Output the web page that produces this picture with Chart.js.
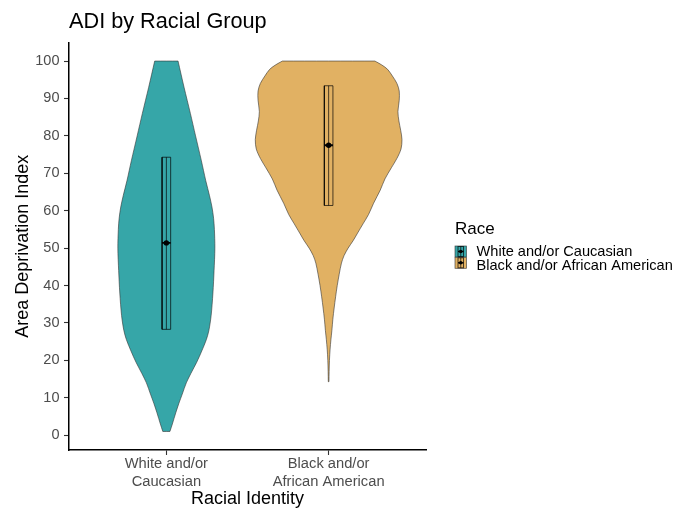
<!DOCTYPE html>
<html>
<head>
<meta charset="utf-8">
<script src="https://cdn.jsdelivr.net/npm/chart.js@4/dist/chart.umd.min.js"></script>
<style>
  html, body { margin: 0; padding: 0; background: #ffffff; }
  #wrap { width: 688px; height: 510px; position: relative; }
</style>
</head>
<body>
<div id="wrap"><canvas id="chart" width="688" height="510"></canvas></div>
<script>
// ---- data ----
const categories = ['White and/or Caucasian', 'Black and/or African American'];
const tickLabels = [['White and/or', 'Caucasian'], ['Black and/or', 'African American']];
const yTicks = [0, 10, 20, 30, 40, 50, 60, 70, 80, 90, 100];

// violin profiles: ADI level and half-width of the density (category units)
const whiteLevels = [1, 3, 6, 8.5, 11, 14, 16.5, 19.5, 22.5, 25.5, 28, 32, 38, 44, 50, 55, 58, 61, 64, 68, 73.5, 80, 86, 93, 100];
const whiteHalfWidth = [0.022, 0.037, 0.058, 0.077, 0.098, 0.123, 0.151, 0.187, 0.218, 0.246, 0.262, 0.276, 0.287, 0.294, 0.299, 0.296, 0.291, 0.281, 0.266, 0.243, 0.215, 0.180, 0.148, 0.109, 0.072];

const blackLevels = [14.3, 17, 20, 23, 25.5, 28, 31, 34, 37, 40, 43, 46, 48, 50, 52, 54, 56.5, 59, 62, 65.5, 68.5, 71.5, 74, 76.5, 79, 81.5, 84, 86.5, 89.5, 92, 94, 96, 97.8, 99, 100];
const blackHalfWidth = [0.002, 0.003, 0.005, 0.009, 0.014, 0.020, 0.026, 0.034, 0.043, 0.053, 0.065, 0.079, 0.095, 0.120, 0.151, 0.178, 0.212, 0.246, 0.277, 0.318, 0.347, 0.387, 0.421, 0.446, 0.452, 0.444, 0.433, 0.427, 0.435, 0.435, 0.421, 0.393, 0.363, 0.326, 0.285];

// interquartile box and mean per group
const lowerQuartile = [28.3, 61.4];
const upperQuartile = [74.3, 93.4];
const groupMean = [51.4, 77.5];

// ---- styling ----
const fillColors = ['#36A6A8', '#E1B163'];
const FONT = "'Liberation Sans', Arial, Helvetica, sans-serif";
const BOX_HALF = 0.0265;
const OUTLINE = 'rgba(51,51,51,0.85)';
const BOX_LINE = 'rgba(0,0,0,0.68)';

Chart.defaults.font.family = FONT;

// closed outline: up the right side, down the left side;
// the end vertices are repeated so the flat ends stay square
function violinOutline(center, levels, halves) {
  const n = levels.length;
  const right = levels.map((y, i) => ({ x: center + halves[i], y }));
  const left = levels.map((y, i) => ({ x: center - halves[i], y })).reverse();
  return [right[0], ...right, right[n - 1], left[0], ...left, left[n - 1], right[0]];
}

const profiles = [
  { levels: whiteLevels, halves: whiteHalfWidth },
  { levels: blackLevels, halves: blackHalfWidth }
];

// higher `order` is painted first, so violins sit underneath the boxes
const datasets = [];
categories.forEach((name, i) => {
  const c = i + 1;
  datasets.push({
    label: name, order: 10,
    data: violinOutline(c, profiles[i].levels, profiles[i].halves),
    showLine: true, fill: 'shape', tension: 0.3,
    backgroundColor: fillColors[i], borderColor: OUTLINE, borderWidth: 0.7,
    pointRadius: 0
  });
  datasets.push({
    order: 3,
    data: [
      { x: c - BOX_HALF, y: lowerQuartile[i] }, { x: c + BOX_HALF, y: lowerQuartile[i] },
      { x: c + BOX_HALF, y: upperQuartile[i] }, { x: c - BOX_HALF, y: upperQuartile[i] },
      { x: c - BOX_HALF, y: lowerQuartile[i] }
    ],
    showLine: true, fill: false, tension: 0,
    borderColor: BOX_LINE, borderWidth: 1, pointRadius: 0
  });
  datasets.push({
    order: 3,
    data: [{ x: c, y: lowerQuartile[i] }, { x: c, y: upperQuartile[i] }],
    showLine: true, fill: false, tension: 0,
    borderColor: BOX_LINE, borderWidth: 1, pointRadius: 0
  });
  datasets.push({
    order: 1,
    data: [{ x: c - BOX_HALF, y: groupMean[i] }, { x: c + BOX_HALF, y: groupMean[i] }],
    showLine: true, fill: false, tension: 0,
    borderColor: '#000', borderWidth: 1.8, pointRadius: 0
  });
  datasets.push({
    order: 0,
    data: [{ x: c, y: groupMean[i] }],
    showLine: false,
    pointRadius: 2.7, pointBackgroundColor: '#000', pointBorderWidth: 0
  });
});

// legend drawn beside the plot
const raceLegend = {
  id: 'raceLegend',
  afterDraw(chart) {
    const ctx = chart.ctx;
    ctx.save();
    ctx.textAlign = 'left';
    ctx.textBaseline = 'middle';
    ctx.fillStyle = '#000';
    ctx.font = '17px ' + FONT;
    ctx.fillText('Race', 455, 229.5);
    ctx.font = '14.6px ' + FONT;
    categories.forEach((name, i) => {
      const kx = 455, ky = 246 + i * 11.3, kw = 11.5, kh = 11;
      ctx.fillStyle = fillColors[i];
      ctx.fillRect(kx, ky, kw, kh);
      ctx.strokeStyle = OUTLINE;
      ctx.lineWidth = 0.7;
      ctx.strokeRect(kx, ky, kw, kh);
      // box glyph
      ctx.strokeStyle = BOX_LINE;
      ctx.lineWidth = 1;
      ctx.strokeRect(kx + 3, ky + 0.5, kw - 6, kh - 1);
      ctx.beginPath();
      ctx.moveTo(kx + kw / 2, ky + 0.5);
      ctx.lineTo(kx + kw / 2, ky + kh - 0.5);
      ctx.stroke();
      ctx.fillStyle = '#000';
      ctx.beginPath();
      ctx.arc(kx + kw / 2, ky + kh / 2, 1.8, 0, Math.PI * 2);
      ctx.fill();
      ctx.fillRect(kx + 3, ky + kh / 2 - 0.7, kw - 6, 1.4);
      ctx.fillStyle = '#000';
      ctx.fillText(name, 476.5, 252 + i * 14.3);
    });
    ctx.restore();
  }
};

new Chart(document.getElementById('chart'), {
  type: 'scatter',
  data: { datasets },
  plugins: [raceLegend],
  options: {
    responsive: false,
    animation: false,
    events: [],
    layout: { padding: { left: 0, right: 262, top: 0, bottom: 0 } },
    plugins: {
      legend: { display: false },
      tooltip: { enabled: false },
      title: {
        display: true, text: 'ADI by Racial Group', align: 'start', fullSize: false,
        color: '#000', font: { size: 21.7, weight: 'normal' },
        padding: { top: 9, bottom: 7.5 }
      }
    },
    scales: {
      x: {
        type: 'linear', min: 0.4, max: 2.6,
        afterBuildTicks: s => { s.ticks = categories.map((_, i) => ({ value: i + 1 })); },
        afterFit: s => { s.height = 60; },
        ticks: {
          callback: v => tickLabels[Math.round(v) - 1],
          color: '#4D4D4D', font: { size: 14.7 }, padding: 0,
          maxRotation: 0, autoSkip: false
        },
        grid: { display: true, drawOnChartArea: false, drawTicks: true, tickLength: 5, tickColor: '#333', tickWidth: 1.1 },
        border: { display: true, color: '#000', width: 1.5 },
        title: { display: true, text: 'Racial Identity', color: '#000', font: { size: 18 }, padding: { top: 0, bottom: 0 } }
      },
      y: {
        type: 'linear', min: -3.95, max: 104.95,
        afterBuildTicks: s => { s.ticks = yTicks.map(v => ({ value: v })); },
        afterFit: s => { s.width = 69; },
        ticks: { color: '#4D4D4D', font: { size: 14.5 }, padding: 4.5 },
        grid: { display: true, drawOnChartArea: false, drawTicks: true, tickLength: 5, tickColor: '#333', tickWidth: 1.1 },
        border: { display: true, color: '#000', width: 1.5 },
        title: { display: true, text: 'Area Deprivation Index', color: '#000', font: { size: 18 }, padding: { top: 12.7, bottom: 0 } }
      }
    }
  }
});
</script>
</body>
</html>
